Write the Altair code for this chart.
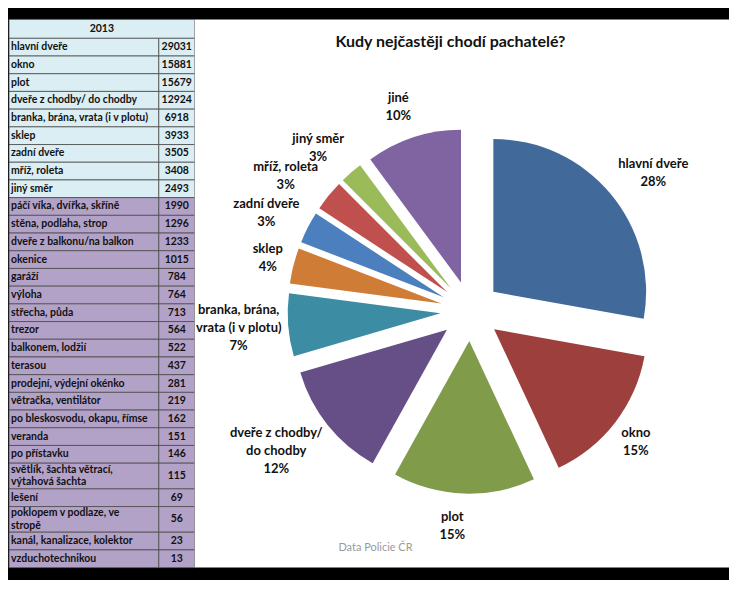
import altair as alt
import pandas as pd

year = "2013"
labels = ["hlavní dveře", "okno", "plot", "dveře z chodby/ do chodby",
          "branka, brána, vrata (i v plotu)", "sklep", "zadní dveře", "mříž, roleta",
          "jiný směr", "páčí víka, dvířka, skříně", "stěna, podlaha, strop",
          "dveře z balkonu/na balkon", "okenice", "garáží", "výloha", "střecha, půda",
          "trezor", "balkonem, lodžií", "terasou", "prodejní, výdejní okénko",
          "větračka, ventilátor", "po bleskosvodu, okapu, římse", "veranda",
          "po přístavku", "světlík, šachta větrací,\nvýtahová šachta", "lešení",
          "poklopem v podlaze, ve\nstropě", "kanál, kanalizace, kolektor",
          "vzduchotechnikou"]
values = [29031, 15881, 15679, 12924, 6918, 3933, 3505, 3408, 2493, 1990, 1296, 1233,
          1015, 784, 764, 713, 564, 522, 437, 281, 219, 162, 151, 146, 115, 69, 56, 23, 13]
n_top = 9

pie_labels = ["hlavní dveře", "okno", "plot", "dveře z chodby/\ndo chodby",
              "branka, brána,\nvrata (i v plotu)", "sklep", "zadní dveře",
              "mříž, roleta", "jiný směr", "jiné"]
pie_pct = ["28%", "15%", "15%", "12%", "7%", "4%", "3%", "3%", "3%", "10%"]
pie_values = values[:n_top] + [sum(values[n_top:])]
pie_colors = ["#416A9B", "#9D403D", "#809C4A", "#664F86", "#3C8CA3", "#CF7D36",
              "#4B7FBD", "#C0504D", "#9BBB59", "#8064A2"]

title = "Kudy nejčastěji chodí pachatelé?"
source = "Data Policie ČR"

FONT = "Lato"
TABLE_W = 186
NAME_W = 150
VIEW_H = 549
PIE_W = 535

# ---------- table ----------
rows = [{"order": 0, "label": year, "value": "", "group": "head", "w": 1.07}]
for i, (l, v) in enumerate(zip(labels, values)):
    rows.append({"order": i + 1, "label": l, "value": str(v),
                 "group": "top" if i < n_top else "other",
                 "w": 1.45 if "\n" in l else 1.0})
tdf = pd.DataFrame(rows)

tbase = alt.Chart(tdf).transform_window(
    y1="sum(w)", sort=[alt.SortField("order")], frame=[None, 0]
).transform_calculate(y0="datum.y1 - datum.w", ym="datum.y1 - datum.w/2")

yscale = alt.Scale(reverse=True, nice=False, zero=True)
fill = alt.Color("group:N", scale=alt.Scale(domain=["head", "top", "other"],
                                            range=["#DBEEF4", "#DBEEF4", "#B3A2C7"]),
                 legend=None)
border = dict(stroke="#4a4a4a", strokeWidth=0.8)
tfont = dict(font=FONT, fontSize=10.5, fontWeight="bold", color="#111", baseline="middle")
LH = 12.5

head_rect = tbase.transform_filter("datum.group == 'head'").mark_rect(**border).encode(
    x=alt.value(0), x2=alt.value(TABLE_W),
    y=alt.Y("y0:Q", scale=yscale, axis=None), y2="y1:Q", color=fill)
name_rect = tbase.transform_filter("datum.group != 'head'").mark_rect(**border).encode(
    x=alt.value(0), x2=alt.value(NAME_W),
    y=alt.Y("y0:Q", scale=yscale, axis=None), y2="y1:Q", color=fill)
val_rect = tbase.transform_filter("datum.group != 'head'").mark_rect(**border).encode(
    x=alt.value(NAME_W), x2=alt.value(TABLE_W),
    y=alt.Y("y0:Q", scale=yscale, axis=None), y2="y1:Q", color=fill)
head_text = tbase.transform_filter("datum.group == 'head'").mark_text(**tfont).encode(
    x=alt.value(TABLE_W / 2), y=alt.Y("ym:Q", scale=yscale, axis=None), text="label:N")
name_text1 = tbase.transform_filter(
    "datum.group != 'head' && indexof(datum.label, '\\n') < 0").mark_text(
    align="left", **tfont).encode(
    x=alt.value(2), y=alt.Y("ym:Q", scale=yscale, axis=None), text="label:N")
name_text2 = tbase.transform_filter(
    "datum.group != 'head' && indexof(datum.label, '\\n') >= 0").mark_text(
    align="left", lineBreak="\n", lineHeight=LH, dy=-LH / 2, **tfont).encode(
    x=alt.value(2), y=alt.Y("ym:Q", scale=yscale, axis=None), text="label:N")
val_text = tbase.transform_filter("datum.group != 'head'").mark_text(
    align="center", **tfont).encode(
    x=alt.value((NAME_W + TABLE_W) / 2), y=alt.Y("ym:Q", scale=yscale, axis=None),
    text="value:N")

table = alt.layer(head_rect, name_rect, val_rect, head_text, name_text1, name_text2,
                  val_text).properties(width=TABLE_W, height=VIEW_H)

# ---------- pie ----------
CX, CY = 276, 292
EXPLODE = 30
R = 153
LRX, LRY = 195, 196
CW = 2.8
PLH = 18
XMIN = 44
pdf = pd.DataFrame({"order": list(range(len(pie_labels))), "label": pie_labels,
                    "pct": pie_pct, "value": pie_values})
pdf["text"] = pdf["label"] + "\n" + pdf["pct"]
pdf["maxchars"] = [max(len(s) for s in t.split("\n")) for t in pdf["text"]]
pdf["nlines"] = [len(t.split("\n")) for t in pdf["text"]]

pbase = alt.Chart(pdf).transform_window(
    cum="sum(value)", sort=[alt.SortField("order")], frame=[None, 0]
).transform_joinaggregate(total="sum(value)").transform_calculate(
    t0="2*PI*(datum.cum - datum.value)/datum.total",
    t1="2*PI*datum.cum/datum.total"
).transform_calculate(mid="(datum.t0 + datum.t1)/2").transform_calculate(
    cx=f"{CX} + {EXPLODE}*sin(datum.mid)",
    cy=f"{CY} - {EXPLODE}*cos(datum.mid)",
    lx=f"max({XMIN}, {CX} + sin(datum.mid)*{LRX} + (sin(datum.mid) < 0 ? -1 : 1)*datum.maxchars*{CW})",
    ly=f"{CY} - cos(datum.mid)*({LRY} + datum.nlines*9.5) - (datum.nlines - 1)*{PLH / 2}",
)

arcs = pbase.mark_arc(radius=R).encode(
    x=alt.X("cx:Q", scale=None), y=alt.Y("cy:Q", scale=None),
    theta=alt.Theta("t0:Q", scale=None), theta2="t1:Q",
    color=alt.Color("label:N", scale=alt.Scale(domain=pie_labels, range=pie_colors),
                    legend=None))
plabels = pbase.mark_text(font=FONT, fontSize=13, fontWeight="bold", color="#111",
                          align="center", baseline="middle", lineBreak="\n",
                          lineHeight=PLH).encode(
    x=alt.X("lx:Q", scale=None), y=alt.Y("ly:Q", scale=None), text="text:N")
ttl = alt.Chart(pd.DataFrame({"t": [title]})).mark_text(
    font=FONT, fontSize=16, fontWeight="bold", color="#111", baseline="middle").encode(
    x=alt.value(256), y=alt.value(23), text="t:N")
src = alt.Chart(pd.DataFrame({"t": [source]})).mark_text(
    font=FONT, fontSize=11, color="#9a9a9a", baseline="middle").encode(
    x=alt.value(181), y=alt.value(529), text="t:N")

pie = alt.layer(arcs, plabels, ttl, src).properties(width=PIE_W, height=VIEW_H)

chart = alt.hconcat(table, pie, spacing=0, bounds="flush").resolve_scale(
    color="independent"
).properties(
    background="black", padding={"top": 10, "bottom": 11, "left": 0, "right": 0}
).configure_view(stroke=None, fill="white")

chart.save("out.html", embed_options={"renderer": "svg", "actions": False})
